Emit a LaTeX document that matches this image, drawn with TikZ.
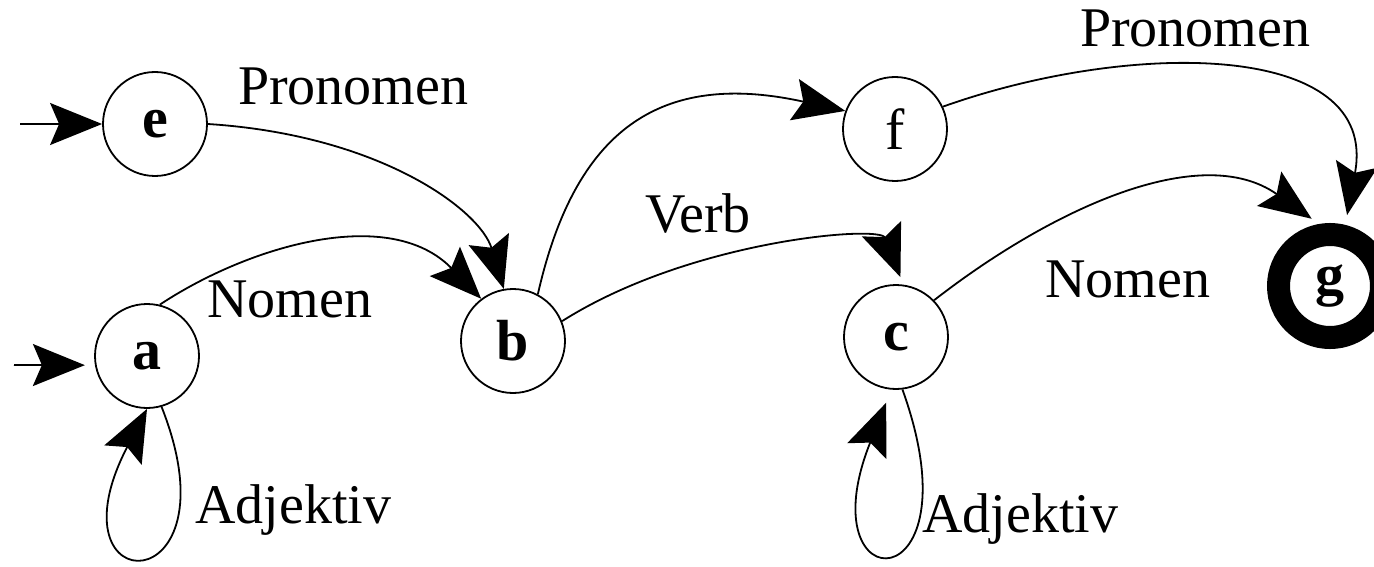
\documentclass[tikz,border=0pt]{standalone}
\usepackage{fontspec}
\setmainfont{Liberation Serif}
\usetikzlibrary{arrows.meta}
\begin{document}
\begin{tikzpicture}[x=1pt,y=-1pt,
  state/.style={circle,draw,line width=1.8pt,minimum size=104pt,inner sep=0pt,font=\fontsize{58}{60}\selectfont\bfseries},
  finalstate/.style={circle,draw,line width=23pt,minimum size=103pt,inner sep=0pt,font=\fontsize{58}{60}\selectfont\bfseries},
  edge/.style={line width=1.8pt,-{Stealth[length=52pt,width=42pt,inset=9pt]}},
  lbl/.style={anchor=base west,inner sep=0pt,font=\fontsize{56}{60}\selectfont}]
\useasboundingbox (0,0) rectangle (1374,567);
% states
\node[state] (e) at (155,124) {e};
\node[state] (a) at (147,356) {a};
\node[state] (b) at (513,341) {b};
\node[state,font=\fontsize{58}{60}\selectfont] (f) at (895,129) {f};
\node[state] (c) at (896,337) {c};
\node[finalstate] (g) at (1330,286) {g};
% initial arrows
\coordinate (ie) at (20,124);
\coordinate (ia) at (14,365);
\draw[edge] (ie) -- (e.west);
\draw[edge,shorten >=10pt] (ia) -- (a.190);
% transitions
\draw[edge] (e.east) .. controls (380,135) and (480,210) .. (b.100);
\draw[edge] (a.76) .. controls (250,245) and (390,205) .. (b.127);
\draw[edge] (b.62) .. controls (575,130) and (660,70) .. (f.160);
\draw[edge,shorten >=8pt] (b.22) .. controls (690,240) and (880,225) .. (c.82);
\draw[edge,shorten >=10pt] (f.25) .. controls (1130,40) and (1380,40) .. (g.76);
\draw[edge,shorten >=9pt] (c.44) .. controls (1050,210) and (1200,140) .. (g.100);
\draw[edge] (a.-74) .. controls (240,605) and (45,605) .. (a.-90);
\draw[edge,shorten >=14pt] (c.-83) .. controls (980,605) and (805,605) .. (c.-95);
% labels
\node[lbl] (l1) at (238,105) {Pronomen};
\node[lbl] (l2) at (207,317) {Nomen};
\node[lbl] (l3) at (195,523) {Adjektiv};
\node[lbl] (l4) at (645,232) {Verb};
\node[lbl] (l5) at (1080,47) {Pronomen};
\node[lbl] (l6) at (1045,297) {Nomen};
\node[lbl] (l7) at (922,532) {Adjektiv};
\end{tikzpicture}
\end{document}
